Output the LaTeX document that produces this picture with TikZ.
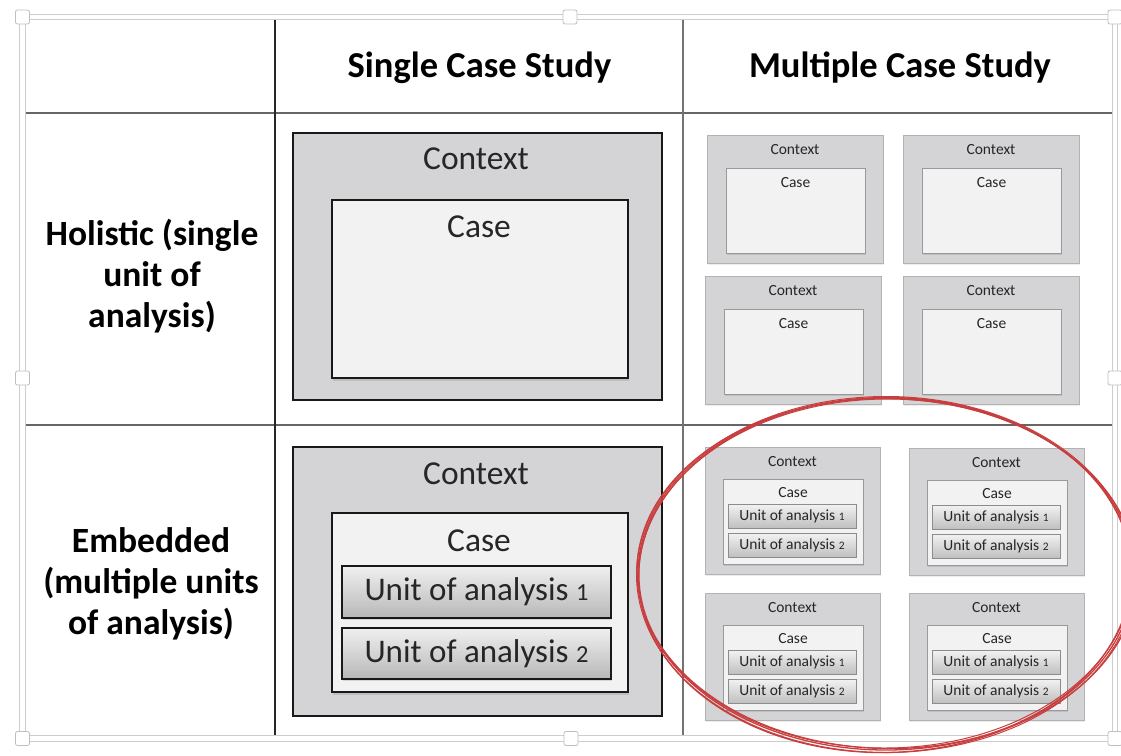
\documentclass[tikz,border=0pt]{standalone}
\usepackage{fontspec}
\setmainfont{Carlito}
\usetikzlibrary{shadows}
\definecolor{ctxgray}{RGB}{212,212,214}
\definecolor{casegray}{RGB}{242,242,242}
\definecolor{framegray}{RGB}{205,205,205}
\definecolor{ovalred}{RGB}{200,62,62}
\newcommand{\osf}[1]{\scalebox{0.74}{#1}}
\tikzset{
  box/.style={anchor=north west, inner sep=0pt, outer sep=0pt},
  bctx/.style={box, draw=black!90, line width=1.3pt, fill=ctxgray},
  bcase/.style={box, draw=black!90, line width=1.2pt, fill=casegray,
    drop shadow={shadow xshift=1pt, shadow yshift=-2.5pt, opacity=0.25}},
  bunit/.style={box, draw=black!90, line width=1.2pt, top color=black!6, bottom color=black!28,
    drop shadow={shadow xshift=1pt, shadow yshift=-2pt, opacity=0.25},
    font=\fontsize{33}{37}\selectfont, text=black!85},
  sctx/.style={box, draw=black!30, line width=0.6pt, fill=ctxgray,
    drop shadow={shadow xshift=0.5pt, shadow yshift=-1.5pt, opacity=0.15}},
  scase/.style={box, draw=black!40, line width=0.6pt, fill=casegray,
    drop shadow={shadow xshift=0.5pt, shadow yshift=-1.5pt, opacity=0.25}},
  sunit/.style={box, draw=black!45, line width=0.6pt, top color=black!5, bottom color=black!25,
    drop shadow={shadow xshift=0.5pt, shadow yshift=-1pt, opacity=0.2},
    font=\fontsize{15.5}{17}\selectfont, text=black!85},
  btxt/.style={anchor=base, inner sep=0pt, font=\fontsize{33.5}{37}\selectfont, text=black!85},
  stxt/.style={anchor=base, inner sep=0pt, font=\fontsize{15.5}{17}\selectfont, text=black!85},
  head/.style={anchor=base, inner sep=0pt, font=\fontsize{36.5}{42}\bfseries\selectfont},
  rowlab/.style={anchor=base, inner sep=0pt, font=\fontsize{35.5}{42}\bfseries\selectfont},
  hline/.style={draw=black!60, line width=2.4pt},
  vline/.style={draw=black!85, line width=1.8pt},
  vlinegray/.style={draw=black!55, line width=2.4pt},
  handle/.style={draw=black!25, fill=white, line width=0.8pt, rounded corners=2pt,
    minimum size=14pt, inner sep=0pt},
  oval/.style={draw=ovalred, line width=1.3pt}
}
\newcommand{\MiniHolo}[3]{%
  \node[sctx, minimum width=176pt, minimum height=128pt] (#1ctx) at (#2,#3) {};
  \node[stxt] (#1ctxl) at ([yshift=-19pt]#1ctx.north) {Context};
  \node[scase, minimum width=139pt, minimum height=85pt] (#1case) at ([xshift=19pt,yshift=-33pt]#1ctx.north west) {};
  \node[stxt] (#1casel) at ([yshift=-19pt]#1case.north) {Case};
}
\newcommand{\MiniEmb}[3]{%
  \node[sctx, minimum width=175pt, minimum height=127pt] (#1ctx) at (#2,#3) {};
  \node[stxt] (#1ctxl) at ([yshift=-19pt]#1ctx.north) {Context};
  \node[scase, minimum width=140pt, minimum height=85pt] (#1case) at ([xshift=18pt,yshift=-32pt]#1ctx.north west) {};
  \node[stxt] (#1casel) at ([yshift=-18pt]#1case.north) {Case};
  \node[sunit, minimum width=128pt, minimum height=24pt] (#1ua) at ([xshift=5pt,yshift=-25pt]#1case.north west) {Unit of analysis \osf{1}};
  \node[sunit, minimum width=128pt, minimum height=24pt] (#1ub) at ([xshift=5pt,yshift=-54pt]#1case.north west) {Unit of analysis \osf{2}};
}
\begin{document}
\begin{tikzpicture}[x=1pt,y=-1pt]
\useasboundingbox (0,0) rectangle (1121,755);
\fill[white] (0,0) rectangle (1121,755);
% selection frame
\draw[draw=framegray, line width=0.9pt, double=white, double distance=4.5pt] (22.5,17) rectangle (1115,738.5);
\foreach \n/\p in {tl/{(22.5,17)}, tm/{(570,17)}, tr/{(1115,17)}, lm/{(22.5,378)}, rm/{(1115,378)}, bl/{(22.5,738.5)}, bm/{(571,738.5)}, br/{(1115,738.5)}}
  \node[handle] (h\n) at \p {};
% table grid
\coordinate (hl1a) at (26,113); \coordinate (hl1b) at (1112,113);
\coordinate (hl2a) at (26,425); \coordinate (hl2b) at (1112,425);
\coordinate (vl1a) at (275,20); \coordinate (vl1b) at (275,735);
\coordinate (vl2a) at (683,20); \coordinate (vl2b) at (683,735);
\draw[hline] (hl1a) -- (hl1b);
\draw[hline] (hl2a) -- (hl2b);
\draw[vline] (vl1a) -- (vl1b);
\draw[vlinegray] (vl2a) -- (vl2b);
% headers
\node[head] (hsingle) at (479.5,77) {Single Case Study};
\node[head] (hmulti) at (900,77) {Multiple Case Study};
% row labels
\node[rowlab] (r1a) at (152,245) {Holistic (single};
\node[rowlab] (r1b) at (152,286) {unit of};
\node[rowlab] (r1c) at (152,327) {analysis)};
\node[rowlab] (r2a) at (151,552) {Embedded};
\node[rowlab] (r2b) at (151,593) {(multiple units};
\node[rowlab] (r2c) at (151,634) {of analysis)};
% single holistic
\node[bctx, minimum width=369pt, minimum height=267pt] (shctx) at (293,133) {};
\node[btxt] (shctxl) at (476,169) {Context};
\node[bcase, minimum width=296pt, minimum height=178pt] (shcase) at (332,200) {};
\node[btxt] (shcasel) at (479,237) {Case};
% single embedded
\node[bctx, minimum width=369pt, minimum height=269pt] (sectx) at (293,447) {};
\node[btxt] (sectxl) at (476,484) {Context};
\node[bcase, minimum width=296pt, minimum height=179pt] (secase) at (332,513) {};
\node[btxt] (secasel) at (479,551) {Case};
\node[bunit, minimum width=269pt, minimum height=52pt] (seua) at (342,566) {Unit of analysis \osf{1}};
\node[bunit, minimum width=269pt, minimum height=51pt] (seub) at (342,628) {Unit of analysis \osf{2}};
% multiple holistic
\MiniHolo{ma}{707}{135}
\MiniHolo{mb}{903}{135}
\MiniHolo{mc}{705}{276}
\MiniHolo{md}{903}{276}
% multiple embedded
\MiniEmb{me}{705}{447}
\MiniEmb{mf}{909}{448}
\MiniEmb{mg}{705}{593}
\MiniEmb{mh}{909}{593}
% red oval
\draw[oval] (886,574) ellipse [x radius=248pt, y radius=176pt];
\draw[oval] (885,575) ellipse [x radius=246.5pt, y radius=177.5pt, rotate=1];
\draw[oval] (887,573.5) ellipse [x radius=250pt, y radius=175pt, rotate=-1];
\draw[oval, line width=1pt] (886,574.5) ellipse [x radius=249.5pt, y radius=178pt];
\draw[oval, line width=1pt] (886,573.5) ellipse [x radius=247pt, y radius=174.5pt, rotate=0.5];
\end{tikzpicture}
\end{document}
